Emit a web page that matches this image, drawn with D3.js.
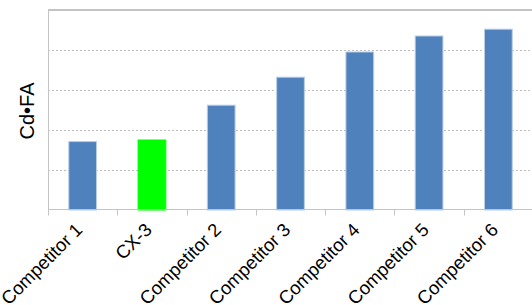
<!DOCTYPE html>
<html>
<head>
<meta charset="utf-8">
<script src="https://cdn.jsdelivr.net/npm/d3@7"></script>
<style>
  body { margin: 0; background: #fff; }
  svg { display: block; font-family: "Liberation Sans", Arial, Helvetica, sans-serif; }
</style>
</head>
<body>
<svg id="chart"></svg>
<script>
const width = 532;
const height = 305;
const categories = ["Competitor 1", "CX-3", "Competitor 2", "Competitor 3", "Competitor 4", "Competitor 5", "Competitor 6"];
const values = [1.71, 1.75, 2.62, 3.32, 3.95, 4.35, 4.52];
const barColors = ["#4f81bd", "#00ff00", "#4f81bd", "#4f81bd", "#4f81bd", "#4f81bd", "#4f81bd"];
const yTicks = [0, 1, 2, 3, 4, 5];

const plot = { left: 48, top: 10, right: 533, bottom: 210 };

const svg = d3.select("#chart")
    .attr("width", width)
    .attr("height", height);

const x = d3.scaleBand().domain(categories).range([plot.left, plot.right]);
const y = d3.scaleLinear().domain([0, 5]).range([plot.bottom, plot.top]);

// dotted gridlines
svg.append("g")
    .selectAll("line")
    .data(yTicks.slice(1, -1)).enter()
    .append("line")
    .attr("x1", plot.left)
    .attr("x2", plot.right)
    .attr("y1", d => y(d) + 0.5)
    .attr("y2", d => y(d) + 0.5)
    .attr("stroke", "#c0c0c0")
    .attr("stroke-dasharray", "2,2");

// frame: top border + left axis
svg.append("line")
    .attr("x1", plot.left).attr("x2", plot.right)
    .attr("y1", plot.top).attr("y2", plot.top)
    .attr("stroke", "#b0b0b0")
    .attr("stroke-width", 1.5);

svg.append("line")
    .attr("x1", plot.left + 0.5).attr("x2", plot.left + 0.5)
    .attr("y1", plot.top).attr("y2", plot.bottom)
    .attr("stroke", "#c4c4c4");

// bars
const barW = x.bandwidth() * 0.4;
svg.append("g")
    .selectAll("rect")
    .data(categories).enter()
    .append("rect")
    .attr("x", d => x(d) + (x.bandwidth() - barW) / 2)
    .attr("y", (d, i) => y(values[i]))
    .attr("width", barW)
    .attr("height", (d, i) => y(0) - y(values[i]))
    .attr("fill", (d, i) => barColors[i])
    .attr("stroke", (d, i) => i === 1 ? "#00ff00" : "#b8cce4")
    .attr("stroke-width", 1);

// x axis
const xAxis = svg.append("g")
    .attr("transform", "translate(0," + (plot.bottom - 0.5) + ")");

xAxis.append("line")
    .attr("x1", plot.left).attr("x2", plot.right)
    .attr("stroke", "#c4c4c4");

xAxis.selectAll(".tick")
    .data(categories).enter()
    .append("line")
    .attr("x1", d => Math.round(x(d)) + 0.5)
    .attr("x2", d => Math.round(x(d)) + 0.5)
    .attr("y1", 0)
    .attr("y2", 6)
    .attr("stroke", "#c4c4c4");

svg.append("g")
    .selectAll("text")
    .data(categories).enter()
    .append("text")
    .attr("transform", d => "translate(" + (x(d) + x.bandwidth() / 2 + 1) + ",231) rotate(-45)")
    .attr("text-anchor", "end")
    .attr("font-size", 18.5)
    .attr("fill", "#000")
    .text(d => d);

// y label
svg.append("text")
    .attr("transform", "translate(34,111) rotate(-90)")
    .attr("text-anchor", "middle")
    .attr("font-size", 20)
    .attr("fill", "#000")
    .text("Cd\u2022FA");
</script>
</body>
</html>
